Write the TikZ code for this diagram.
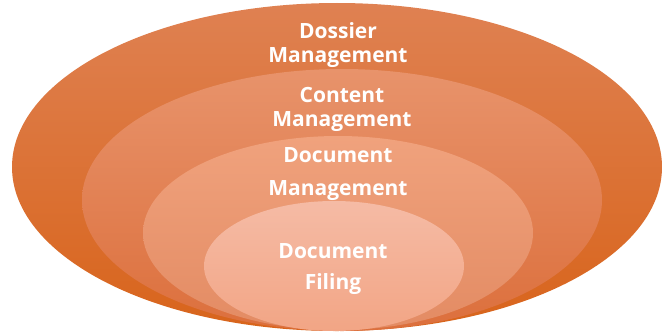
\documentclass[tikz,border=0pt]{standalone}
\usepackage{fontspec}
\setmainfont{Open Sans}
\usepackage{tikz}

\definecolor{dossierTop}{HTML}{DF8152}
\definecolor{dossierBot}{HTML}{D8641B}
\definecolor{contentTop}{HTML}{E8936B}
\definecolor{contentBot}{HTML}{DC6F3C}
\definecolor{docmgmtTop}{HTML}{F0A27D}
\definecolor{docmgmtBot}{HTML}{E38B63}
\definecolor{filingTop}{HTML}{F5BBA5}
\definecolor{filingBot}{HTML}{F2A585}

\tikzset{
	layertext/.style={text=white, font=\bfseries\fontsize{21}{24}\selectfont, anchor=base, inner sep=0pt}
}

\begin{document}
\begin{tikzpicture}[x=1pt, y=1pt]
		\useasboundingbox (0,0) rectangle (668,333);

		% layers, outer to inner
		\shade [top color=dossierTop, bottom color=dossierBot] (337,166) ellipse (325 and 164);
		\shade [top color=contentTop, bottom color=contentBot] (342,133) ellipse (260 and 131);
		\shade [top color=docmgmtTop, bottom color=docmgmtBot] (338,100) ellipse (195 and 97);
		\shade [top color=filingTop, bottom color=filingBot] (334,67) ellipse (130 and 65);

		\node [layertext] (dossier1) at (338, 295) {Dossier};
		\node [layertext] (dossier2) at (338, 271) {Management};
		\node [layertext] (content1) at (342, 231) {Content};
		\node [layertext] (content2) at (342, 207) {Management};
		\node [layertext] (docmgmt1) at (338, 171) {Document};
		\node [layertext] (docmgmt2) at (338, 138) {Management};
		\node [layertext] (filing1) at (333, 75) {Document};
		\node [layertext] (filing2) at (333, 44) {Filing};

	\end{tikzpicture}
\end{document}
